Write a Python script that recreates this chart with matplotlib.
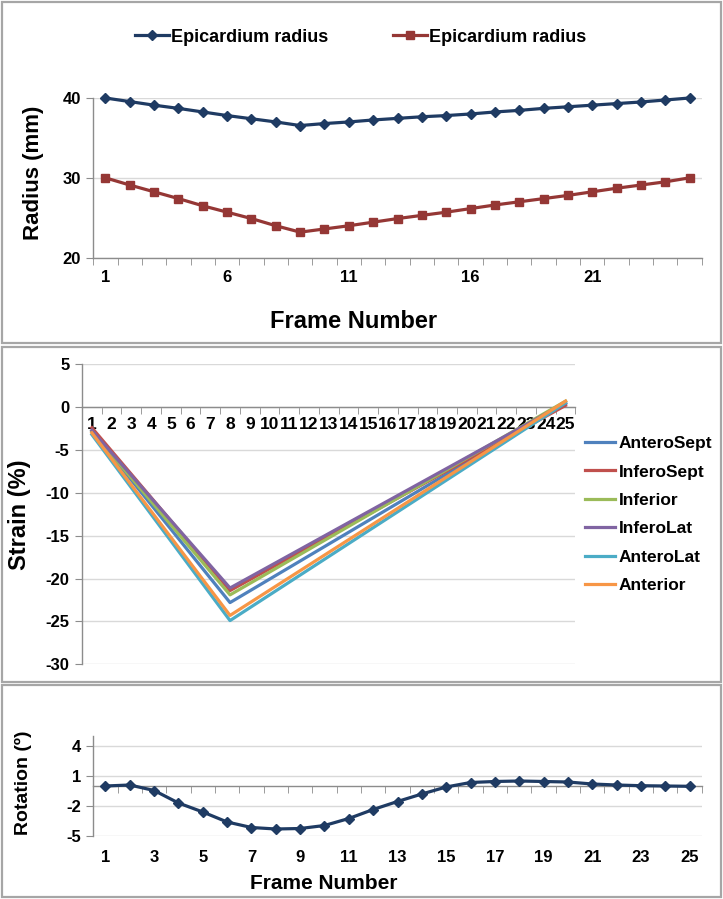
import matplotlib
matplotlib.use("Agg")
import matplotlib.pyplot as plt
from matplotlib.patches import Rectangle
from matplotlib.ticker import FixedLocator, NullFormatter

# ---------------- data ----------------
frames = list(range(1, 26))

endo_label = "Epicardium radius"
radius_outer = [40.0, 39.55, 39.1, 38.7, 38.25, 37.8, 37.4, 37.0, 36.55, 36.8, 37.0, 37.25,
                37.45, 37.65, 37.8, 38.0, 38.25, 38.45, 38.7, 38.9, 39.1, 39.3, 39.5, 39.75, 40.0]
radius_inner = [30.0, 29.1, 28.25, 27.4, 26.5, 25.7, 24.9, 24.0, 23.2, 23.6, 24.0, 24.45,
                24.9, 25.3, 25.7, 26.15, 26.6, 27.0, 27.4, 27.8, 28.25, 28.7, 29.1, 29.5, 30.0]

strain_frames = [1, 8, 25]
segments = ["AnteroSept", "InferoSept", "Inferior", "InferoLat", "AnteroLat", "Anterior"]
strain_anterosept = [-2.8, -22.8, 0.4]
strain_inferosept = [-2.4, -21.4, 0.2]
strain_inferior = [-2.8, -21.9, 0.7]
strain_inferolat = [-2.7, -21.1, 0.5]
strain_anterolat = [-3.2, -24.9, 0.5]
strain_anterior = [-3.0, -24.3, 0.7]

rotation = [0.0, 0.1, -0.45, -1.7, -2.6, -3.6, -4.15, -4.3, -4.25, -3.95, -3.25, -2.35,
            -1.55, -0.8, -0.1, 0.35, 0.45, 0.5, 0.45, 0.4, 0.2, 0.1, 0.03, 0.0, -0.03]

radius_ticks = [20, 30, 40]
strain_ticks = [5, 0, -5, -10, -15, -20, -25, -30]
rotation_ticks = [4, 1, -2, -5]
top_xtick_labels = [1, 6, 11, 16, 21]
bottom_xtick_labels = list(range(1, 26, 2))

# ---------------- style ----------------
W, H = 723, 899
NAVY = "#1f3b63"
RED = "#953735"
seg_colors = ["#4f81bd", "#c0504d", "#9bbb59", "#8064a2", "#4bacc6", "#f79646"]
GRID = "#d9d9d9"
AXC = "#8c8c8c"
BORDER = "#a6a6a6"
SANS = ["Liberation Sans", "DejaVu Sans"]

plt.rcParams["font.family"] = SANS
plt.rcParams["font.weight"] = "bold"
plt.rcParams["axes.unicode_minus"] = False

fig = plt.figure(figsize=(W / 100, H / 100), dpi=100)
fig.patch.set_facecolor("white")


def axes_px(l, t, r, b):
    return fig.add_axes([l / W, 1 - b / H, (r - l) / W, (b - t) / H])


def box_px(l, t, r, b):
    fig.patches.append(Rectangle((l / W, 1 - b / H), (r - l) / W, (b - t) / H,
                                 transform=fig.transFigure, fill=False,
                                 edgecolor=BORDER, linewidth=1.6, zorder=0))


box_px(2, 2, 721, 343)
box_px(2, 347, 721, 682)
box_px(2, 685, 721, 897)


def base_style(ax):
    for s in ["top", "right"]:
        ax.spines[s].set_visible(False)
    ax.spines["left"].set_color(AXC)
    ax.spines["bottom"].set_color(AXC)
    ax.spines["left"].set_linewidth(1.0)
    ax.spines["bottom"].set_linewidth(1.0)
    ax.grid(axis="y", color=GRID, linewidth=1.0, zorder=0)
    ax.set_axisbelow(True)
    ax.tick_params(axis="y", which="major", length=5, color=AXC, labelsize=12, pad=4)
    ax.set_xlim(0.5, 25.5)
    ax.xaxis.set_minor_locator(FixedLocator([i + 0.5 for i in range(0, 26)]))
    ax.xaxis.set_minor_formatter(NullFormatter())
    ax.tick_params(axis="x", which="minor", length=5, color=AXC, direction="out")
    ax.tick_params(axis="x", which="major", length=0, labelsize=12)
    for lab in ax.get_yticklabels() + ax.get_xticklabels():
        lab.set_fontweight("bold")


# ---------------- panel 1 ----------------
ax1 = axes_px(93.3, 98, 701.7, 257.7)
ax1.plot(frames, radius_outer, color=NAVY, lw=2.3, marker="D", ms=5, clip_on=False,
         label=endo_label, zorder=3)
ax1.plot(frames, radius_inner, color=RED, lw=2.3, marker="s", ms=6, clip_on=False,
         label=endo_label, zorder=3)
ax1.set_ylim(20, 40)
ax1.set_yticks(radius_ticks)
ax1.set_xticks(top_xtick_labels)
base_style(ax1)
ax1.tick_params(axis="x", which="major", pad=9)
ax1.set_ylabel("Radius (mm)", fontsize=16, fontweight="bold", va="center")
ax1.yaxis.set_label_coords(-0.098, 0.53)
ax1.set_xlabel("Frame Number", fontsize=17, fontweight="bold", va="center")
ax1.xaxis.set_label_coords(0.428, -0.40)
ax1.legend(loc="center", bbox_to_anchor=(360.5 / W, 1 - 37 / H),
           bbox_transform=fig.transFigure, ncol=2, frameon=False,
           prop={"size": 13, "weight": "bold"},
           handlelength=1.9, handletextpad=0.1, columnspacing=3.6,
           borderpad=0, borderaxespad=0)

# ---------------- panel 2 ----------------
ax2 = axes_px(82, 364.3, 575.4, 664.3)
strain_series = [strain_anterosept, strain_inferosept, strain_inferior,
                 strain_inferolat, strain_anterolat, strain_anterior]
for name, vals, c in zip(segments, strain_series, seg_colors):
    ax2.plot(strain_frames, vals, color=c, lw=2.3, label=name, zorder=3)
ax2.set_ylim(-30, 5)
ax2.set_yticks(strain_ticks)
ax2.set_xticks(frames)
base_style(ax2)
ax2.spines["bottom"].set_position(("data", 0))
ax2.tick_params(axis="x", which="major", pad=7, labelsize=12.5)
ax2.set_ylabel("Strain (%)", fontsize=17, fontweight="bold", va="center")
ax2.yaxis.set_label_coords((19.4 - 82) / 493.4, 0.5)
ax2.legend(loc="center left", bbox_to_anchor=(585 / W, 1 - 514.5 / H),
           bbox_transform=fig.transFigure, frameon=False,
           prop={"size": 12.5, "weight": "bold"},
           handlelength=1.75, handletextpad=0.2, labelspacing=0.76,
           borderpad=0, borderaxespad=0)

# ---------------- panel 3 ----------------
ax3 = axes_px(93.3, 736, 701.7, 836)
ax3.plot(frames, rotation, color=NAVY, lw=2.3, marker="D", ms=5, clip_on=False, zorder=3)
ax3.set_ylim(-5, 5)
ax3.set_yticks(rotation_ticks)
ax3.set_xticks([])
base_style(ax3)
ax3.spines["bottom"].set_position(("data", 0))
sec = ax3.secondary_xaxis("bottom")
sec.set_xticks(bottom_xtick_labels)
sec.spines["bottom"].set_visible(False)
sec.tick_params(axis="x", length=0, labelsize=12, pad=10)
for lab in sec.get_xticklabels():
    lab.set_fontweight("bold")
ax3.set_ylabel("Rotation (º)", fontsize=14, fontweight="bold", va="center")
ax3.yaxis.set_label_coords((23.7 - 93.3) / 608.4, 0.53)
fig.text(323.5 / W, 1 - 883.3 / H, "Frame Number", fontsize=15, fontweight="bold",
         ha="center", va="center")

fig.savefig("out.png", dpi=100, facecolor="white")
